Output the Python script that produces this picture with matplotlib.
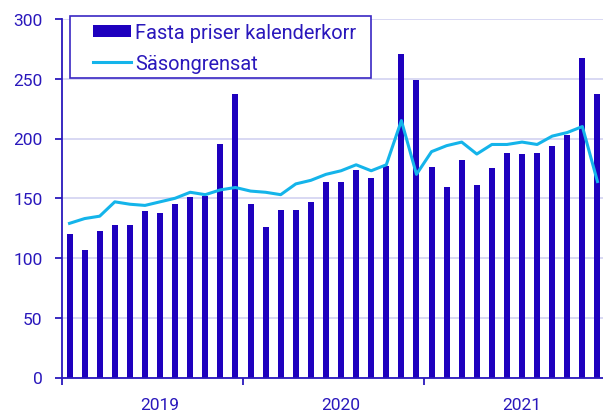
import matplotlib.pyplot as plt
import matplotlib.patches as mpatches
import numpy as np

plt.rcParams['font.family'] = ['Roboto', 'DejaVu Sans']

years = ['2019', '2020', '2021']

# monthly values, jan 2019 - dec 2021
fasta = [120, 107, 123, 128, 128, 139, 138, 145, 151, 152, 195, 237,
         145, 126, 140, 140, 147, 164, 164, 174, 167, 177, 271, 249,
         176, 159, 182, 161, 175, 188, 187, 188, 194, 203, 267, 237]
sasong = [129, 133, 135, 147, 145, 144, 147, 150, 155, 153, 157, 159,
          156, 155, 153, 162, 165, 170, 173, 178, 173, 178, 215, 170,
          189, 194, 197, 187, 195, 195, 197, 195, 202, 205, 210, 164]

bar_col = '#1e00be'
line_col = '#14b4ea'
txt_col = '#2a18bc'
grid_col = '#d6d6f2'

W, H = 603, 414
fig = plt.figure(figsize=(W/100, H/100), dpi=100)
ax = fig.add_axes([62/W, 35.5/H, 543/W, 358.5/H])

x = np.arange(len(fasta))
b = ax.bar(x, fasta, width=0.4, color=bar_col, label='Fasta priser kalenderkorr', zorder=2)
l, = ax.plot(x, sasong, color=line_col, lw=2.2, label='Säsongrensat', zorder=3)

ax.set_xlim(-0.5, 35.5)
ax.set_ylim(0, 300)
ax.set_yticks(range(0, 301, 50))
ax.yaxis.grid(True, color=grid_col, lw=1.3, zorder=0)
ax.set_axisbelow(True)

for s in ['top', 'right']:
    ax.spines[s].set_visible(False)
for s in ['left', 'bottom']:
    ax.spines[s].set_color(txt_col)
    ax.spines[s].set_linewidth(1.3)

ax.set_xticks([-0.5, 11.5, 23.5, 35.5])
ax.set_xticklabels([])
ax.set_xticks([6, 18, 30], minor=True)
ax.set_xticklabels(years, minor=True)
ax.tick_params(axis='x', which='major', length=5, width=1.3, color=txt_col)
ax.tick_params(axis='x', which='minor', length=0, pad=14, labelsize=12.5, labelcolor=txt_col)
ax.tick_params(axis='y', length=5, width=1.3, color=txt_col, pad=9, labelsize=12.5, labelcolor=txt_col)

# legend frame drawn by hand, legend itself without frame
frame = mpatches.Rectangle((70/W, 1 - 79/H), 301/W, 62/H, transform=fig.transFigure,
                           facecolor='white', edgecolor='#3a28c4', lw=1.2, clip_on=False, zorder=4)
ax.add_patch(frame)
leg = ax.legend([b, l], ['Fasta priser kalenderkorr', 'Säsongrensat'],
                loc='upper left', bbox_to_anchor=(92.5/W, 1 - 24/H), bbox_transform=fig.transFigure,
                fontsize=14.4, frameon=False, handlelength=1.92, handleheight=0.57,
                handletextpad=0.2, labelspacing=0.6, borderpad=0, borderaxespad=0)
leg.set_zorder(5)
for t in leg.get_texts():
    t.set_color(txt_col)

fig.savefig('out.png', dpi=100)
